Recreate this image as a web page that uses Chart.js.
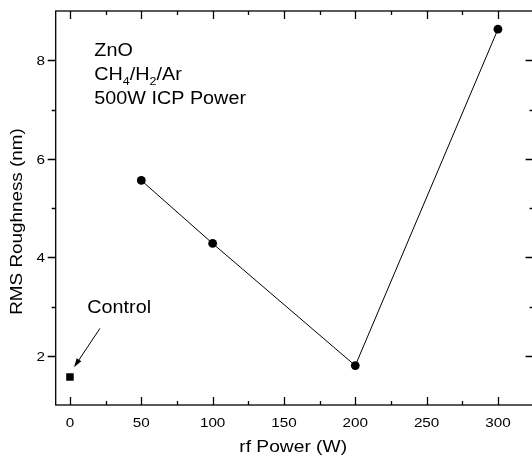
<!DOCTYPE html>
<html>
<head>
<meta charset="utf-8">
<script src="https://cdn.jsdelivr.net/npm/chart.js@4/dist/chart.umd.min.js"></script>
<style>
  html, body { margin: 0; padding: 0; background: #fff; overflow: hidden; }
  #wrap { width: 532px; height: 460px; overflow: hidden; position: relative; }
  #chart { position: absolute; left: 0; top: 0; }
</style>
</head>
<body>
<div id="wrap"><canvas id="chart" width="545" height="460"></canvas></div>
<script>
// data
const controlPower = [0];
const controlRms = [1.57];
const rfPower = [50, 100, 200, 300];
const rmsRoughness = [5.56, 4.28, 1.80, 8.63];

// axis ticks
const xTicks = [0, 50, 100, 150, 200, 250, 300];
const xMinor = [25, 75, 125, 175, 225, 275];
const yTicks = [2, 4, 6, 8];
const yMinor = [3, 5, 7];

const FONT = '"Liberation Sans", Arial, sans-serif';
const STRETCH = 1.13;

// draw text, a bit wider than Arial like the original
function drawText(ctx, s, x, y, size, align, rot) {
  ctx.save();
  ctx.font = size + "px " + FONT;
  ctx.translate(x, y);
  if (rot) ctx.rotate(rot);
  ctx.scale(STRETCH, 1);
  ctx.textAlign = align || "left";
  ctx.textBaseline = "alphabetic";
  ctx.fillText(s, 0, 0);
  const w = ctx.measureText(s).width * STRETCH;
  ctx.restore();
  return w;
}

const framePlugin = {
  id: "frame",
  afterDraw(chart) {
    const { ctx, chartArea: a } = chart;
    const x = chart.scales.x;
    const y = chart.scales.y;
    ctx.save();
    ctx.strokeStyle = "#000";
    ctx.fillStyle = "#000";
    ctx.lineWidth = 1.3;
    ctx.strokeRect(a.left, a.top, a.right - a.left, a.bottom - a.top);

    ctx.beginPath();
    // bottom + top ticks point inward
    xTicks.concat(xMinor).forEach((v) => {
      const len = xTicks.includes(v) ? 8 : 4;
      const px = Math.round(x.getPixelForValue(v)) + 0.5;
      ctx.moveTo(px, a.bottom); ctx.lineTo(px, a.bottom - len);
      ctx.moveTo(px, a.top); ctx.lineTo(px, a.top + len);
    });
    // left ticks point out, right ticks in
    yTicks.concat(yMinor).forEach((v) => {
      const len = yTicks.includes(v) ? 8 : 4;
      const py = Math.round(y.getPixelForValue(v)) + 0.5;
      ctx.moveTo(a.left, py); ctx.lineTo(a.left - len, py);
      ctx.moveTo(a.right, py); ctx.lineTo(a.right - len, py);
    });
    ctx.stroke();

    // tick labels
    xTicks.forEach((v) => drawText(ctx, String(v), x.getPixelForValue(v), 426.5, 13.5, "center"));
    yTicks.forEach((v) => drawText(ctx, String(v), 45, y.getPixelForValue(v) + 4.8, 13.5, "right"));

    // axis titles
    drawText(ctx, "rf Power (W)", (a.left + a.right) / 2 - 1.5, 452.3, 17, "center");
    drawText(ctx, "RMS Roughness (nm)", 22, 221.5, 16.7, "center", -Math.PI / 2);

    // sample notes
    const nx = x.getPixelForValue(17.06);
    drawText(ctx, "ZnO", nx, y.getPixelForValue(8.086), 17.5);
    let cx = nx;
    const by = y.getPixelForValue(7.599);
    cx += drawText(ctx, "CH", cx, by, 17.5);
    cx += drawText(ctx, "4", cx, by + 5.5, 11);
    cx += drawText(ctx, "/H", cx, by, 17.5);
    cx += drawText(ctx, "2", cx, by + 5.5, 11);
    drawText(ctx, "/Ar", cx, by, 17.5);
    drawText(ctx, "500W ICP Power", nx, y.getPixelForValue(7.112), 17.5);

    // control label + arrow
    drawText(ctx, "Control", x.getPixelForValue(12.15), y.getPixelForValue(2.862), 17.5);
    const x0 = x.getPixelForValue(21.05), y0 = y.getPixelForValue(2.557);
    const x1 = x.getPixelForValue(2.83), y1 = y.getPixelForValue(1.766);
    const ang = Math.atan2(y1 - y0, x1 - x0);
    ctx.lineWidth = 1;
    ctx.beginPath();
    ctx.moveTo(x0, y0);
    ctx.lineTo(x1 - 6 * Math.cos(ang), y1 - 6 * Math.sin(ang));
    ctx.stroke();
    ctx.beginPath();
    ctx.moveTo(x1, y1);
    ctx.lineTo(x1 - 9 * Math.cos(ang) + 2.8 * Math.sin(ang), y1 - 9 * Math.sin(ang) - 2.8 * Math.cos(ang));
    ctx.lineTo(x1 - 9 * Math.cos(ang) - 2.8 * Math.sin(ang), y1 - 9 * Math.sin(ang) + 2.8 * Math.cos(ang));
    ctx.closePath();
    ctx.fill();
    ctx.restore();
  },
};

const ctx = document.getElementById("chart").getContext("2d");
new Chart(ctx, {
  type: "scatter",
  data: {
    datasets: [
      {
        label: "Control",
        data: controlPower.map((p, i) => ({ x: p, y: controlRms[i] })),
        pointStyle: "rect",
        pointRadius: 5.3,
        pointBorderWidth: 0,
        backgroundColor: "#000",
        borderColor: "#000",
      },
      {
        label: "RMS Roughness",
        data: rfPower.map((p, i) => ({ x: p, y: rmsRoughness[i] })),
        showLine: true,
        borderColor: "#000",
        borderWidth: 1,
        backgroundColor: "#000",
        pointRadius: 4.4,
        pointBorderWidth: 0,
      },
    ],
  },
  options: {
    responsive: false,
    animation: false,
    devicePixelRatio: 1,
    layout: { padding: { left: 0, top: 11, right: 11.4, bottom: 0 } },
    plugins: { legend: { display: false }, tooltip: { enabled: false } },
    scales: {
      x: {
        type: "linear",
        min: -10,
        max: 325,
        grid: { display: false },
        border: { display: false },
        ticks: { display: false },
        afterFit: (s) => { s.height = 55; },
      },
      y: {
        type: "linear",
        min: 1,
        max: 9,
        grid: { display: false },
        border: { display: false },
        ticks: { display: false },
        afterFit: (s) => { s.width = 55.7; },
      },
    },
  },
  plugins: [framePlugin],
});
</script>
</body>
</html>
